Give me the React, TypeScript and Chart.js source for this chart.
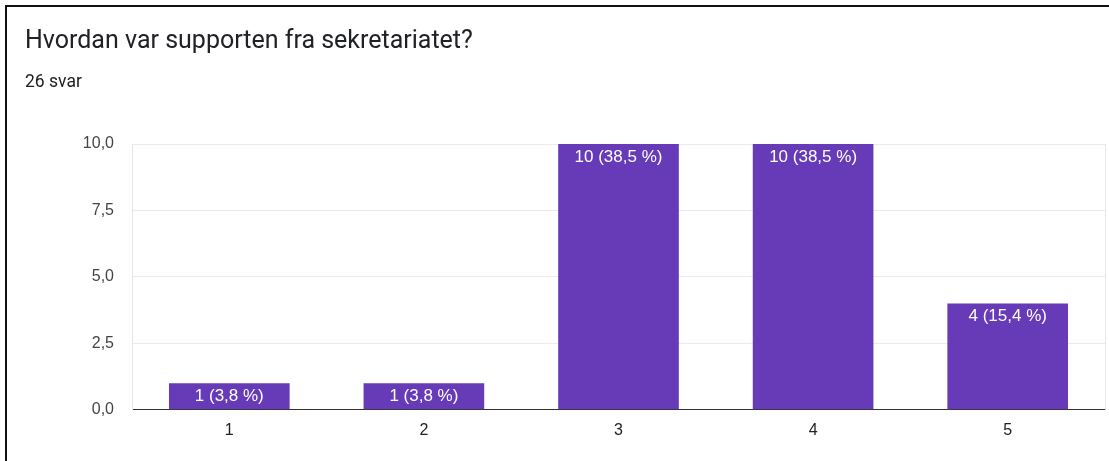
import React, { useEffect, useRef } from "react";
import { Chart, registerables } from "chart.js";

Chart.register(...registerables);

const title = "Hvordan var supporten fra sekretariatet?";
const subtitle = "26 svar";
const categories = ["1", "2", "3", "4", "5"];
const counts = [1, 1, 10, 10, 4];
const yTicks = [0, 2.5, 5, 7.5, 10];

const total = counts.reduce((a, b) => a + b, 0);
const fmt = (v: number, d: number) => v.toFixed(d).replace(".", ",");

const FONT = "'Liberation Sans', Arial, sans-serif";

const labelPlugin = {
  id: "barLabels",
  afterDatasetsDraw(chart: any) {
    const ctx = chart.ctx;
    const meta = chart.getDatasetMeta(0);
    ctx.save();
    ctx.fillStyle = "#ffffff";
    ctx.font = `17px ${FONT}`;
    ctx.textAlign = "center";
    ctx.textBaseline = "middle";
    meta.data.forEach((bar: any, i: number) => {
      const v = counts[i];
      const txt = `${v} (${fmt((v / total) * 100, 1)} %)`;
      ctx.fillText(txt, bar.x, bar.y + 13);
    });
    ctx.restore();
  },
};

const framePlugin = {
  id: "areaFrame",
  afterDraw(chart: any) {
    const { ctx, chartArea } = chart;
    ctx.save();
    ctx.strokeStyle = "#e6e6e6";
    ctx.lineWidth = 1;
    ctx.beginPath();
    ctx.moveTo(Math.round(chartArea.right) + 0.5, chartArea.top);
    ctx.lineTo(Math.round(chartArea.right) + 0.5, chartArea.bottom);
    ctx.stroke();
    ctx.restore();
  },
};

export default function App() {
  const ref = useRef<HTMLCanvasElement | null>(null);

  useEffect(() => {
    if (!ref.current) return;
    const chart = new Chart(ref.current, {
      type: "bar",
      data: {
        labels: categories,
        datasets: [
          {
            data: counts,
            backgroundColor: "#673ab7",
            borderWidth: 0,
            categoryPercentage: 0.62,
            barPercentage: 1,
          },
        ],
      },
      options: {
        responsive: false,
        animation: false,
        layout: { padding: { left: 0, top: 144, right: 4, bottom: 18 } },
        plugins: {
          legend: { display: false },
          tooltip: { enabled: false },
        },
        scales: {
          x: {
            grid: { display: false },
            border: { color: "#333333", width: 1 },
            ticks: {
              color: "#222222",
              font: { family: FONT, size: 16 },
              padding: 3,
            },
          },
          y: {
            min: 0,
            max: 10,
            afterBuildTicks: (axis: any) => {
              axis.ticks = yTicks.map((v) => ({ value: v }));
            },
            afterFit: (axis: any) => {
              axis.width = 132;
            },
            grid: { color: "#ebebeb", drawTicks: false },
            border: { color: "#e6e6e6" },
            ticks: {
              color: "#444444",
              font: { family: FONT, size: 16 },
              padding: 18,
              callback: (v: any) => fmt(Number(v), 1),
            },
          },
        },
      },
      plugins: [labelPlugin, framePlugin],
    });
    return () => chart.destroy();
  }, []);

  return (
    <div
      style={{
        position: "fixed",
        left: 0,
        top: 0,
        width: 1109,
        height: 461,
        overflow: "hidden",
        background: "#ffffff",
      }}
    >
      <canvas
        ref={ref}
        width={1109}
        height={461}
        style={{ position: "absolute", left: 0, top: 0 }}
      />
      <div
        style={{
          position: "absolute",
          left: 5,
          top: 5,
          width: 1300,
          height: 700,
          borderLeft: "2px solid #111",
          borderTop: "2px solid #111",
          boxSizing: "border-box",
        }}
      />
      <div
        style={{
          position: "absolute",
          left: 25,
          top: 26,
          fontFamily: "Roboto, sans-serif",
          fontSize: 25,
          color: "#202124",
          whiteSpace: "nowrap",
          lineHeight: "28px",
        }}
      >
        {title}
      </div>
      <div
        style={{
          position: "absolute",
          left: 25,
          top: 71,
          fontFamily: "Roboto, sans-serif",
          fontSize: 17.5,
          color: "#202124",
          whiteSpace: "nowrap",
          lineHeight: "20px",
        }}
      >
        {subtitle}
      </div>
    </div>
  );
}
